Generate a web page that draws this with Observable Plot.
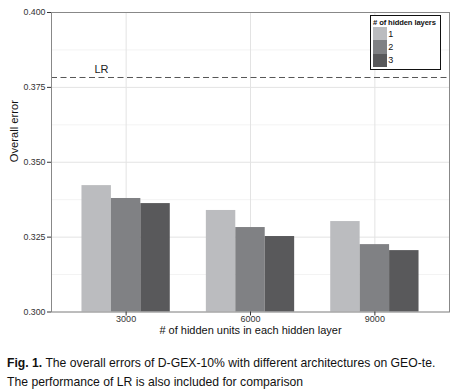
<!DOCTYPE html>
<html>
<head>
<meta charset="utf-8">
<script src="https://cdn.jsdelivr.net/npm/d3@7"></script>
<script src="https://cdn.jsdelivr.net/npm/@observablehq/plot@0.6"></script>
<style>
  html, body { margin: 0; padding: 0; background: #fff; }
  #wrap { position: relative; width: 457px; font-family: "Liberation Sans", Arial, sans-serif; }
  #legend { position: absolute; left: 370px; top: 15px; width: 71px; height: 55px; box-sizing: border-box;
            border: 1px solid #111; background: #fff; padding: 2px 0 0 2px; }
  #legend .t { font-size: 7.6px; font-weight: bold; line-height: 9px; color: #111; white-space: nowrap; letter-spacing: -0.1px; }
  #legend .row { display: flex; align-items: center; height: 13.3px; }
  #legend .sw { width: 13.7px; height: 13.3px; }
  #legend .lab { font-size: 9px; margin-left: 1.5px; color: #111; }
  #caption { font-size: 12.2px; line-height: 19px; margin-top: 8.5px; padding-left: 7px; color: #111; white-space: nowrap; }
</style>
</head>
<body>
<div id="wrap">
  <div id="chart"></div>
  <div id="legend"></div>
  <div id="caption"></div>
</div>
<script>
// ---- data ----
const unitCategories = [3000, 6000, 9000];
const layerCategories = [1, 2, 3];
const errLayer1 = [0.3422, 0.3339, 0.3302];
const errLayer2 = [0.3379, 0.3282, 0.3225];
const errLayer3 = [0.3362, 0.3252, 0.3205];
const lrError = 0.3783;
const yTicks = [0.300, 0.325, 0.350, 0.375, 0.400];
const layerColors = ["#bbbcbf", "#808184", "#59595b"];
const legendTitle = "# of hidden layers";
const xTitle = "# of hidden units in each hidden layer";
const yTitle = "Overall error";
const lrLabel = "LR";

// ---- build table ----
const series = [errLayer1, errLayer2, errLayer3];
const rows = [];
layerCategories.forEach((layer, li) => {
  unitCategories.forEach((u, ui) => rows.push({units: u, layer, err: series[li][ui]}));
});

const step = unitCategories[1] - unitCategories[0];
const barW = step * 0.71 / layerCategories.length;
const xDomain = [unitCategories[0] - step * 0.6, unitCategories[unitCategories.length - 1] + step * 0.6];
const yDomain = [yTicks[0], yTicks[yTicks.length - 1]];
const yMinor = d3.pairs(yTicks).map(([a, b]) => (a + b) / 2);

const chart = Plot.plot({
  width: 457,
  height: 345,
  marginTop: 12,
  marginBottom: 33.5,
  marginLeft: 51,
  marginRight: 8,
  style: {fontFamily: "'Liberation Sans', Arial, sans-serif", fontSize: "9px", color: "#333", background: "#fff"},
  x: {domain: xDomain, axis: null},
  y: {domain: yDomain, axis: null},
  color: {domain: layerCategories, range: layerColors},
  marks: [
    Plot.ruleY(yMinor, {stroke: "#f3f3f3", strokeWidth: 1}),
    Plot.ruleY(yTicks, {stroke: "#e3e3e3", strokeWidth: 1}),
    Plot.ruleX(unitCategories, {stroke: "#e3e3e3", strokeWidth: 1}),
    Plot.rect(rows, {
      x1: d => d.units + (d.layer - 1 - layerCategories.length / 2) * barW,
      x2: d => d.units + (d.layer - layerCategories.length / 2) * barW,
      y1: () => yDomain[0],
      y2: "err",
      fill: "layer"
    }),
    Plot.ruleY([lrError], {stroke: "#555", strokeWidth: 1, strokeDasharray: "6,3.5"}),
    Plot.text([lrLabel], {frameAnchor: "left", y: () => lrError, dx: 43, dy: -8, fontSize: 11, fill: "#222"}),
    Plot.frame({stroke: "#888", strokeWidth: 1}),
    Plot.axisY(yTicks, {tickFormat: d3.format(".3f"), tickSize: 4, tickPadding: 2, stroke: "#333", fill: "#333", label: null, fontSize: 8.8}),
    Plot.axisX(unitCategories, {tickFormat: d => String(d), tickSize: 4, tickPadding: 0, stroke: "#333", fill: "#333", label: null, fontSize: 9}),
    Plot.text([xTitle], {frameAnchor: "bottom", dy: 21.5, fontSize: 11, fill: "#111"}),
    Plot.text([yTitle], {frameAnchor: "left", dx: -37, rotate: -90, fontSize: 11.2, fill: "#111"})
  ]
});
document.getElementById("chart").appendChild(chart);

// ---- legend ----
const legend = document.getElementById("legend");
const t = document.createElement("div");
t.className = "t";
t.textContent = legendTitle;
legend.appendChild(t);
layerCategories.forEach((l, i) => {
  const r = document.createElement("div");
  r.className = "row";
  const sw = document.createElement("div");
  sw.className = "sw";
  sw.style.background = layerColors[i];
  const lab = document.createElement("span");
  lab.className = "lab";
  lab.textContent = String(l);
  r.appendChild(sw); r.appendChild(lab);
  legend.appendChild(r);
});

// ---- caption ----
const cap = document.getElementById("caption");
cap.innerHTML = "<b>Fig. 1.</b> The overall errors of D-GEX-10% with different architectures on GEO-te.<br>The performance of LR is also included for comparison";
</script>
</body>
</html>
